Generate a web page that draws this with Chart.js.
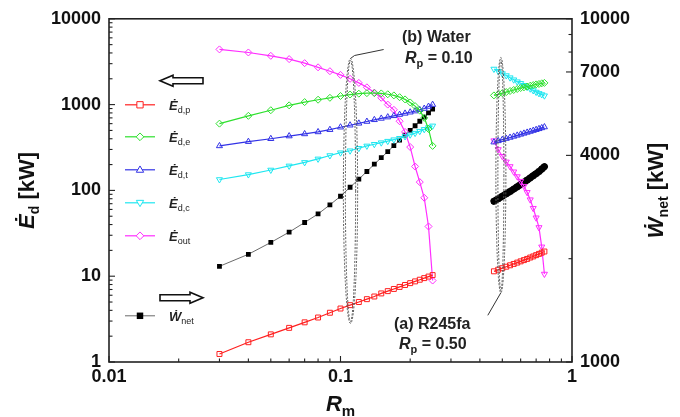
<!DOCTYPE html>
<html>
<head>
<meta charset="utf-8">
<script src="https://cdn.jsdelivr.net/npm/chart.js@4/dist/chart.umd.min.js"></script>
<style>
  html, body { margin: 0; padding: 0; background: #fff; }
  #wrap { width: 680px; height: 417px; }
</style>
</head>
<body>
<div id="wrap"><canvas id="chart-exergy" width="680" height="417"></canvas></div>
<script>
// (b) Water, Rp = 0.10
const rmWater = [0.03, 0.04, 0.05, 0.06, 0.07, 0.08, 0.09, 0.10, 0.11, 0.12, 0.13, 0.14,
    0.15, 0.16, 0.17, 0.18, 0.19, 0.20, 0.21, 0.22, 0.23, 0.24, 0.25];
const edpWater = [1.24, 1.7, 2.1, 2.5, 2.9, 3.3, 3.75, 4.2, 4.6, 5.0, 5.4, 5.8,
    6.3, 6.7, 7.1, 7.5, 7.9, 8.3, 8.7, 9.1, 9.5, 9.9, 10.3];
const edeWater = [600, 740, 860, 980, 1070, 1140, 1200, 1260, 1310, 1340, 1360, 1360,
    1350, 1320, 1280, 1220, 1150, 1060, 960, 850, 700, 520, 330];
const edtWater = [330, 370, 400, 430, 455, 480, 510, 545, 575, 605, 635, 665,
    690, 715, 740, 765, 790, 815, 840, 870, 900, 950, 1000];
const edcWater = [134, 153, 173, 193, 212, 233, 255, 275, 290, 310, 330, 345,
    360, 375, 390, 405, 425, 445, 465, 490, 515, 540, 565];
const eoutWater = [4400, 4050, 3700, 3390, 3040, 2720, 2450, 2220, 2000, 1790, 1590, 1380,
    1200, 1000, 870, 640, 480, 320, 190, 125, 82, 38, 8.9];
const wnetWater = [1900, 2060, 2230, 2390, 2550, 2700, 2870, 3040, 3230, 3410, 3590, 3770,
    3940, 4100, 4270, 4430, 4580, 4730, 4880, 5030, 5170, 5320, 5460];

// (a) R245fa, Rp = 0.50
const rmR245fa = [0.46, 0.48, 0.50, 0.52, 0.54, 0.56, 0.58, 0.60, 0.62, 0.64, 0.66, 0.68,
    0.70, 0.72, 0.74, 0.76];
const edpR245fa = [11.4, 11.9, 12.4, 12.9, 13.4, 13.9, 14.4, 14.9, 15.4, 15.9, 16.5, 17.0,
    17.6, 18.2, 18.8, 19.4];
const edeR245fa = [1280, 1320, 1360, 1400, 1440, 1480, 1520, 1560, 1590, 1620, 1660, 1690,
    1720, 1740, 1770, 1790];
const edtR245fa = [365, 378, 390, 402, 414, 426, 438, 450, 462, 474, 486, 498,
    510, 522, 535, 548];
const edcR245fa = [2600, 2450, 2300, 2180, 2060, 1950, 1850, 1770, 1680, 1600, 1530, 1460,
    1400, 1350, 1310, 1270];
const eoutR245fa = [380, 300, 250, 215, 190, 165, 145, 128, 112, 95, 78, 62,
    48, 37, 22, 10.6];
const wnetR245fa = [2940, 2990, 3040, 3090, 3140, 3190, 3240, 3290, 3340, 3390, 3440, 3490,
    3540, 3590, 3650, 3710];

const xTickValues = [0.01, 0.1, 1];
const xTickLabels = ['0.01', '0.1', '1'];
const yTickValues = [1, 10, 100, 1000, 10000];
const yTickLabels = ['1', '10', '100', '1000', '10000'];
const y2TickValues = [1000, 4000, 7000, 10000];
const y2TickLabels = ['1000', '4000', '7000', '10000'];

const FONT = "'Liberation Sans', Arial, sans-serif";

function pts(xs, ys) {
    return xs.map((x, i) => ({ x: x, y: ys[i] }));
}

const seriesStyles = {
    edp:  { color: '#ff2020', pointStyle: 'rect', rotation: 0 },
    ede:  { color: '#2ee02e', pointStyle: 'rectRot', rotation: 0 },
    edt:  { color: '#3232e6', pointStyle: 'triangle', rotation: 0 },
    edc:  { color: '#1ee6f0', pointStyle: 'triangle', rotation: 180 },
    eout: { color: '#ff2eff', pointStyle: 'rectRot', rotation: 0 },
};

function lineSet(key, xs, ys, opts) {
    const s = seriesStyles[key];
    return Object.assign({
        data: pts(xs, ys),
        yAxisID: 'y',
        borderColor: s.color,
        borderWidth: 1.2,
        pointStyle: s.pointStyle,
        pointRotation: s.rotation,
        pointRadius: 3.5,
        pointBorderWidth: 1,
        pointBorderColor: s.color,
        pointBackgroundColor: 'rgba(255,255,255,0)',
        tension: 0
    }, opts || {});
}

const datasets = [
    lineSet('edp', rmWater, edpWater),
    lineSet('ede', rmWater, edeWater),
    lineSet('edt', rmWater, edtWater),
    lineSet('edc', rmWater, edcWater),
    lineSet('eout', rmWater, eoutWater),
    {
        data: pts(rmWater, wnetWater),
        yAxisID: 'y2',
        borderColor: '#444',
        borderWidth: 0.8,
        pointStyle: 'rect',
        pointRadius: 3.4,
        pointBorderWidth: 0,
        pointBackgroundColor: '#000'
    },
    lineSet('edp', rmR245fa, edpR245fa),
    lineSet('ede', rmR245fa, edeR245fa),
    lineSet('edt', rmR245fa, edtR245fa),
    lineSet('edc', rmR245fa, edcR245fa),
    lineSet('eout', rmR245fa, eoutR245fa, { pointStyle: 'triangle', pointRotation: 180 }),
    {
        data: pts(rmR245fa, wnetR245fa),
        yAxisID: 'y2',
        borderColor: '#000',
        borderWidth: 7,
        borderCapStyle: 'round',
        pointStyle: 'rect',
        pointRadius: 3.8,
        pointBorderWidth: 0,
        pointBackgroundColor: '#000'
    }
];

// legend rows drawn inside the plot (pixel offsets from chart area)
const legendRows = [
    { key: 'edp', main: 'Ė', sub: 'd,p', dy: 86 },
    { key: 'ede', main: 'Ė', sub: 'd,e', dy: 118 },
    { key: 'edt', main: 'Ė', sub: 'd,t', dy: 151 },
    { key: 'edc', main: 'Ė', sub: 'd,c', dy: 184 },
    { key: 'eout', main: 'Ė', sub: 'out', dy: 217 },
    { key: 'wnet', main: 'Ẇ', sub: 'net', dy: 297 }
];

function drawMarker(ctx, style, color, filled, x, y, r, rot) {
    ctx.save();
    ctx.translate(x, y);
    ctx.rotate((rot || 0) * Math.PI / 180);
    ctx.beginPath();
    if (style === 'rect') {
        ctx.rect(-r * 0.9, -r * 0.9, r * 1.8, r * 1.8);
    } else if (style === 'rectRot') {
        ctx.moveTo(0, -r * 1.1); ctx.lineTo(r * 1.1, 0); ctx.lineTo(0, r * 1.1); ctx.lineTo(-r * 1.1, 0);
        ctx.closePath();
    } else {
        ctx.moveTo(0, -r * 1.1); ctx.lineTo(r * 1.05, r * 0.7); ctx.lineTo(-r * 1.05, r * 0.7);
        ctx.closePath();
    }
    if (filled) {
        ctx.fillStyle = color;
        ctx.fill();
    } else {
        ctx.fillStyle = '#fff';
        ctx.fill();
        ctx.strokeStyle = color;
        ctx.lineWidth = 1;
        ctx.stroke();
    }
    ctx.restore();
}

// text with a subscript part, drawn left to right from x
function richWidth(ctx, parts) {
    let w = 0;
    parts.forEach(p => { ctx.font = p.font; w += ctx.measureText(p.t).width; });
    return w;
}
function drawRich(ctx, parts, x, y) {
    let cx = x;
    ctx.textBaseline = 'alphabetic';
    ctx.textAlign = 'left';
    parts.forEach(p => {
        ctx.font = p.font;
        ctx.fillText(p.t, cx, y + (p.dy || 0));
        cx += ctx.measureText(p.t).width;
    });
}

function hollowArrow(ctx, xTip, xTail, y) {
    const dir = xTail > xTip ? 1 : -1;
    const headLen = 13, headH = 5.5, bodyH = 3;
    ctx.beginPath();
    ctx.moveTo(xTip, y);
    ctx.lineTo(xTip + dir * headLen, y - headH);
    ctx.lineTo(xTip + dir * headLen, y - bodyH);
    ctx.lineTo(xTail, y - bodyH);
    ctx.lineTo(xTail, y + bodyH);
    ctx.lineTo(xTip + dir * headLen, y + bodyH);
    ctx.lineTo(xTip + dir * headLen, y + headH);
    ctx.closePath();
    ctx.fillStyle = '#fff';
    ctx.fill();
    ctx.strokeStyle = '#111';
    ctx.lineWidth = 1.6;
    ctx.stroke();
}

// annotation shapes in data units (Rm, left-axis value)
const waterEllipse = { x0: 0.1029, x1: 0.1186, yTop: 3450, yBottom: 2.82 };
const r245Ellipse = { x0: 0.469, x1: 0.518, yTop: 3540, yBottom: 6.4 };
const waterLeader = [[0.1105, 3450], [0.115, 3735], [0.1536, 4385]];
const r245Leader = [[0.4926, 6.4], [0.4328, 3.5]];

const decor = {
    id: 'decor',
    afterDraw(chart) {
        const ctx = chart.ctx;
        const a = chart.chartArea;
        const sx = chart.scales.x, sy = chart.scales.y, sy2 = chart.scales.y2;
        ctx.save();

        // frame
        ctx.strokeStyle = '#222';
        ctx.lineWidth = 1.6;
        ctx.strokeRect(a.left, a.top, a.right - a.left, a.bottom - a.top);

        // inward ticks
        ctx.lineWidth = 1.1;
        ctx.strokeStyle = '#222';
        const tick = (px, py, dx, dy) => {
            ctx.beginPath(); ctx.moveTo(px, py); ctx.lineTo(px + dx, py + dy); ctx.stroke();
        };
        [0.01, 0.1].forEach(d => {
            for (let k = 1; k <= 9; k++) {
                tick(sx.getPixelForValue(d * k), a.bottom, 0, k === 1 ? -6 : -3.5);
            }
        });
        tick(sx.getPixelForValue(1), a.bottom, 0, -6);
        [1, 10, 100, 1000].forEach(d => {
            for (let k = 1; k <= 9; k++) {
                tick(a.left, sy.getPixelForValue(d * k), k === 1 ? 6 : 3.5, 0);
            }
        });
        tick(a.left, sy.getPixelForValue(10000), 6, 0);
        for (let v = 1000; v <= 10000; v += 1000) {
            const major = y2TickValues.indexOf(v) >= 0;
            tick(a.right, sy2.getPixelForValue(v), major ? -6 : -3.5, 0);
        }

        // dashed ellipses
        const ellipse = (e) => {
            const l = sx.getPixelForValue(e.x0), r = sx.getPixelForValue(e.x1);
            const t = sy.getPixelForValue(e.yTop), b = sy.getPixelForValue(e.yBottom);
            ctx.setLineDash([2, 1.5]);
            ctx.strokeStyle = '#555';
            ctx.lineWidth = 1;
            [0, 2].forEach(inset => {
                ctx.beginPath();
                ctx.ellipse((l + r) / 2, (t + b) / 2, (r - l) / 2 - inset, (b - t) / 2 - inset, 0, 0, Math.PI * 2);
                ctx.stroke();
            });
            ctx.setLineDash([]);
        };
        ellipse(waterEllipse);
        ellipse(r245Ellipse);

        const leader = (path) => {
            ctx.strokeStyle = '#333';
            ctx.lineWidth = 1;
            ctx.beginPath();
            path.forEach((p, i) => {
                const px = sx.getPixelForValue(p[0]), py = sy.getPixelForValue(p[1]);
                if (i === 0) ctx.moveTo(px, py); else ctx.lineTo(px, py);
            });
            ctx.stroke();
        };
        leader(waterLeader);
        leader(r245Leader);

        // case labels
        ctx.fillStyle = '#222';
        ctx.font = 'bold 16px ' + FONT;
        ctx.textAlign = 'left';
        ctx.textBaseline = 'alphabetic';
        ctx.fillText('(b) Water', 402, 42);
        drawRich(ctx, [
            { t: 'R', font: 'italic bold 16px ' + FONT },
            { t: 'p', font: 'bold 11px ' + FONT, dy: 4 },
            { t: ' = 0.10', font: 'bold 16px ' + FONT }
        ], 405, 63);
        ctx.font = 'bold 16px ' + FONT;
        ctx.fillText('(a) R245fa', 394, 329);
        drawRich(ctx, [
            { t: 'R', font: 'italic bold 16px ' + FONT },
            { t: 'p', font: 'bold 11px ' + FONT, dy: 4 },
            { t: ' = 0.50', font: 'bold 16px ' + FONT }
        ], 399, 349);

        // legend
        const lx = a.left;
        legendRows.forEach(row => {
            const yy = a.top + row.dy;
            if (row.key === 'wnet') {
                ctx.strokeStyle = '#444';
                ctx.lineWidth = 0.8;
                ctx.beginPath(); ctx.moveTo(lx + 16, yy); ctx.lineTo(lx + 46, yy); ctx.stroke();
                drawMarker(ctx, 'rect', '#000', true, lx + 31, yy, 3.6, 0);
            } else {
                const s = seriesStyles[row.key];
                ctx.strokeStyle = s.color;
                ctx.lineWidth = 1.2;
                ctx.beginPath(); ctx.moveTo(lx + 16, yy); ctx.lineTo(lx + 46, yy); ctx.stroke();
                drawMarker(ctx, s.pointStyle, s.color, false, lx + 31, yy, 3.5, s.rotation);
            }
            ctx.fillStyle = '#222';
            drawRich(ctx, [
                { t: row.main, font: 'italic bold 13px ' + FONT },
                { t: row.sub, font: '9px ' + FONT, dy: 3 }
            ], lx + 60, yy + 5);
        });
        hollowArrow(ctx, a.left + 51, a.left + 94, a.top + 62);
        hollowArrow(ctx, a.left + 94, a.left + 51, a.top + 279);

        // axis titles
        ctx.fillStyle = '#111';
        const leftTitle = [
            { t: 'Ė', font: 'italic bold 22px ' + FONT },
            { t: 'd', font: 'bold 14px ' + FONT, dy: 5 },
            { t: ' [kW]', font: 'bold 22px ' + FONT }
        ];
        ctx.save();
        ctx.translate(34, (a.top + a.bottom) / 2);
        ctx.rotate(-Math.PI / 2);
        drawRich(ctx, leftTitle, -richWidth(ctx, leftTitle) / 2, 0);
        ctx.restore();

        const rightTitle = [
            { t: 'Ẇ', font: 'italic bold 22px ' + FONT },
            { t: 'net', font: 'bold 14px ' + FONT, dy: 5 },
            { t: ' [kW]', font: 'bold 22px ' + FONT }
        ];
        ctx.save();
        ctx.translate(663, (a.top + a.bottom) / 2);
        ctx.rotate(-Math.PI / 2);
        drawRich(ctx, rightTitle, -richWidth(ctx, rightTitle) / 2, 0);
        ctx.restore();

        const bottomTitle = [
            { t: 'R', font: 'italic bold 22px ' + FONT },
            { t: 'm', font: 'bold 15px ' + FONT, dy: 5 }
        ];
        drawRich(ctx, bottomTitle, (a.left + a.right) / 2 - richWidth(ctx, bottomTitle) / 2, 411);

        ctx.restore();
    }
};

const tickFont = { family: FONT, size: 18, weight: 'bold' };

new Chart(document.getElementById('chart-exergy'), {
    type: 'line',
    data: { datasets: datasets },
    options: {
        responsive: false,
        animation: false,
        devicePixelRatio: 1,
        layout: { padding: { top: 16, left: 0, right: 0, bottom: 0 } },
        plugins: { legend: { display: false }, tooltip: { enabled: false } },
        scales: {
            x: {
                type: 'logarithmic',
                min: 0.01,
                max: 1,
                grid: { display: false, drawTicks: false },
                border: { display: false },
                afterBuildTicks: s => { s.ticks = xTickValues.map(v => ({ value: v })); },
                afterFit: s => { s.height = 55; },
                ticks: {
                    padding: 4,
                    color: '#111',
                    font: tickFont,
                    maxRotation: 0,
                    callback: v => xTickLabels[xTickValues.indexOf(v)]
                }
            },
            y: {
                type: 'logarithmic',
                position: 'left',
                min: 1,
                max: 10000,
                grid: { display: false, drawTicks: false },
                border: { display: false },
                afterBuildTicks: s => { s.ticks = yTickValues.map(v => ({ value: v })); },
                afterFit: s => { s.width = 109; },
                ticks: {
                    padding: 8,
                    color: '#111',
                    font: tickFont,
                    callback: v => yTickLabels[yTickValues.indexOf(v)]
                }
            },
            y2: {
                type: 'logarithmic',
                position: 'right',
                min: 1000,
                max: 10000,
                grid: { display: false, drawTicks: false },
                border: { display: false },
                afterBuildTicks: s => { s.ticks = y2TickValues.map(v => ({ value: v })); },
                afterFit: s => { s.width = 108; },
                ticks: {
                    padding: 8,
                    color: '#111',
                    font: tickFont,
                    callback: v => y2TickLabels[y2TickValues.indexOf(v)]
                }
            }
        }
    },
    plugins: [decor]
});
</script>
</body>
</html>
